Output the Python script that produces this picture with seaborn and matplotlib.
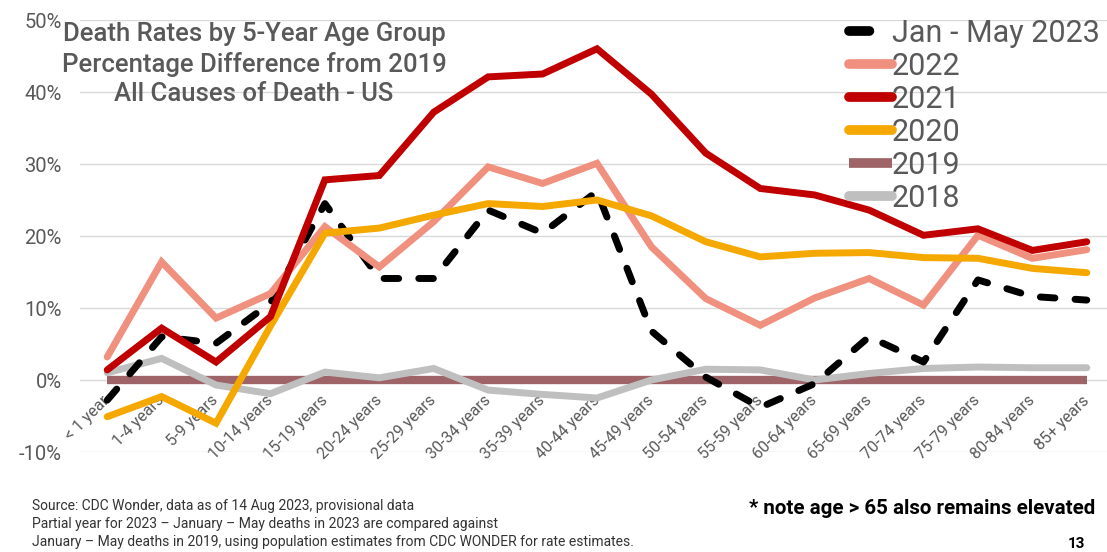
import pandas as pd
import matplotlib
matplotlib.use("Agg")
import matplotlib.pyplot as plt
import seaborn as sns
from matplotlib.ticker import PercentFormatter

# Valeurs (% de différence par rapport à 2019)
ages = ["< 1 year", "1-4 years", "5-9 years", "10-14 years", "15-19 years", "20-24 years",
        "25-29 years", "30-34 years", "35-39 years", "40-44 years", "45-49 years",
        "50-54 years", "55-59 years", "60-64 years", "65-69 years", "70-74 years",
        "75-79 years", "80-84 years", "85+ years"]

jan_may_2023 = [-2.8, 6.0, 5.1, 10.7, 24.5, 14.1, 14.1, 23.6, 20.4, 26.2, 6.8, 0.4, -3.8, -0.5, 6.0, 2.5, 13.9, 11.6, 11.1]
y2022 = [3.2, 16.4, 8.6, 12.0, 21.3, 15.7, 22.0, 29.6, 27.3, 30.1, 18.5, 11.3, 7.6, 11.4, 14.1, 10.4, 20.1, 16.9, 18.1]
y2021 = [1.4, 7.2, 2.5, 8.8, 27.8, 28.4, 37.2, 42.1, 42.5, 46.0, 39.7, 31.5, 26.6, 25.7, 23.6, 20.1, 21.0, 18.0, 19.2]
y2020 = [-5.1, -2.3, -6.0, 7.5, 20.4, 21.1, 22.9, 24.5, 24.1, 25.0, 22.8, 19.2, 17.1, 17.6, 17.7, 17.0, 16.9, 15.5, 14.9]
y2019 = [0.0] * 19
y2018 = [1.0, 3.0, -0.7, -1.9, 1.1, 0.3, 1.6, -1.4, -2.0, -2.5, 0.0, 1.5, 1.4, 0.0, 0.9, 1.6, 1.8, 1.7, 1.7]

series = {
    "Jan - May 2023": jan_may_2023,
    "2022": y2022,
    "2021": y2021,
    "2020": y2020,
    "2019": y2019,
    "2018": y2018,
}
couleurs = {
    "Jan - May 2023": "#000000",
    "2022": "#F0907E",
    "2021": "#C00000",
    "2020": "#F5A800",
    "2019": "#9E6467",
    "2018": "#BFBFBF",
}

df = pd.DataFrame(
    [(a, nom, v / 100) for nom, vals in series.items() for a, v in zip(ages, vals)],
    columns=["age", "serie", "pct"],
)

sns.set_style("white")
plt.rcParams["font.family"] = ["Roboto", "DejaVu Sans"]
plt.rcParams["axes.unicode_minus"] = False
gris = "#595959"

fig = plt.figure(figsize=(11.07, 5.52), dpi=100)
# axes: x 80 -> 1114 px, y 20 -> 452 px
ax = fig.add_axes([80 / 1107, 1 - 452 / 552, (1114 - 80) / 1107, (452 - 20) / 552])

ordre = ["2019", "2018", "Jan - May 2023", "2022", "2020", "2021"]
for z, nom in enumerate(ordre):
    d = df[df["serie"] == nom]
    kw = dict(color=couleurs[nom], lw=5, solid_capstyle="round", solid_joinstyle="miter", zorder=3 + z)
    if nom == "2019":
        kw["lw"] = 6
        kw["solid_capstyle"] = "butt"
    if nom == "Jan - May 2023":
        kw["dashes"] = (2.1, 2.9)
        kw["dash_capstyle"] = "round"
    sns.lineplot(data=d, x="age", y="pct", ax=ax, label=nom, sort=False, **kw)

ax.set_xlim(-0.5, len(ages) - 0.5)
ax.set_ylim(-0.10, 0.50)
ax.set_yticks([-0.1, 0, 0.1, 0.2, 0.3, 0.4, 0.5])
ax.yaxis.set_major_formatter(PercentFormatter(1.0, decimals=0))
ax.grid(axis="y", color="#D9D9D9", lw=1)
ax.set_axisbelow(True)
for s in ["top", "right", "left"]:
    ax.spines[s].set_visible(False)
ax.spines["bottom"].set_position(("data", 0))
ax.spines["bottom"].set_visible(False)
ax.set_xlabel("")
ax.set_ylabel("")
ax.tick_params(axis="y", length=0, pad=13, labelsize=14.5, labelcolor=gris)
ax.tick_params(axis="x", length=0, pad=13, labelsize=11.5, labelcolor=gris)
ax.set_xticks(range(len(ages)))
ax.set_xticklabels(ages, rotation=45, ha="right", va="center", rotation_mode="anchor")

# Légende
handles, labels = ax.get_legend_handles_labels()
hmap = dict(zip(labels, handles))
noms = list(series.keys())
leg = fig.legend([hmap[n] for n in noms], noms, loc="upper left",
                 bbox_to_anchor=(849 / 1107, 1 - 19 / 552), frameon=False,
                 fontsize=22, labelcolor=gris, handlelength=1.4, handletextpad=0.0,
                 labelspacing=0.13, borderpad=0, borderaxespad=0)
for h in leg.legend_handles:
    h.set_linewidth(7)
if ax.get_legend():
    ax.get_legend().remove()

# Titre dans le graphique
fig.text(254 / 1107, 1 - 64 / 552,
         "Death Rates by 5-Year Age Group\nPercentage Difference from 2019\nAll Causes of Death - US",
         ha="center", va="center", fontsize=18.5, color=gris, linespacing=1.28, fontweight="medium")

# Notes de bas de page
notes = ("Source: CDC Wonder, data as of 14 Aug 2023, provisional data\n"
         "Partial year for 2023 \u2013 January \u2013 May deaths in 2023 are compared against\n"
         "January \u2013 May deaths in 2019, using population estimates from CDC WONDER for rate estimates.")
fig.text(32 / 1107, 1 - 524 / 552, notes, ha="left", va="center", fontsize=10,
         color="#333333", linespacing=1.38)
fig.text(1095 / 1107, 1 - 508 / 552, "* note age > 65 also remains elevated", ha="right", va="center",
         fontsize=14.8, fontweight="bold", color="black")
fig.text(1085 / 1107, 1 - 544 / 552, "13", ha="right", va="center", fontsize=11, fontweight="bold",
         color="black")

fig.savefig("out.png", dpi=100)
